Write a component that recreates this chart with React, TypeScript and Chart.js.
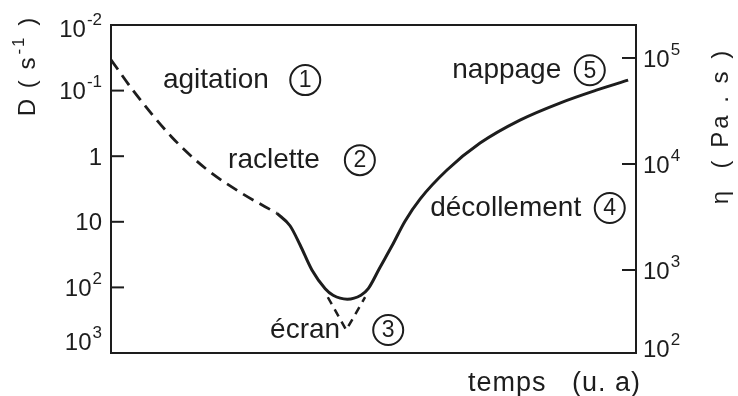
import React, { useEffect, useRef } from "react";
import { Chart, registerables } from "chart.js";

Chart.register(...registerables);

// time axis in arbitrary units (0–100); left values are log10 of D (axis inverted)
const dashedTime = [0, 4.6, 11.6, 17.9, 24.6, 31.6];
const dashedLogD = [-1.47, -0.96, -0.29, 0.18, 0.55, 0.87];
const solidTime = [31.6, 34.1, 36.0, 38.3, 40.8, 42.3, 45.0, 47.6, 49.0, 51.2, 53.5, 56.0, 58.9, 64.0, 70.3, 77.9, 85.5, 92.6, 98.5];
const solidLogD = [0.87, 1.06, 1.35, 1.74, 2.02, 2.12, 2.18, 2.12, 2.02, 1.7, 1.37, 0.99, 0.65, 0.21, -0.2, -0.55, -0.81, -1.01, -1.16];
const screenTime = [41.3, 44.8, 48.4];
const screenLogD = [2.15, 2.65, 2.15];

// axis ticks
const leftTickExps = [-2, -1, 0, 1, 2, 3];
const leftTickBase = ["10", "10", "1", "10", "10", "10"];
const leftTickSup = ["-2", "-1", "", "", "2", "3"];
const rightTickExps = [5, 4, 3, 2];
const rightTickBase = ["10", "10", "10", "10"];
const rightTickSup = ["5", "4", "3", "2"];
const logDMin = -2;
const logDMax = 3;
const logEtaMin = 2.217;
const logEtaMax = 5.311;

// stage annotations
const stageNames = ["agitation", "raclette", "écran", "décollement", "nappage"];
const stageNums = ["1", "2", "3", "4", "5"];
const stageTextTime = [9.9, 22.3, 30.3, 60.8, 65.0];
const stageLogD = [-1.16, 0.06, 2.65, 0.79, -1.31];
const stageCircleTime = [37.0, 47.4, 52.8, 95.0, 91.2];

const INK = "#1d1d1d";
const FONT = '"Liberation Sans", Arial, sans-serif';

function pts(xs: number[], ys: number[]) {
  return xs.map((x, i) => ({ x, y: ys[i] }));
}

function drawPow(
  ctx: CanvasRenderingContext2D,
  base: string,
  sup: string,
  x: number,
  yMid: number,
  align: "left" | "right",
  baseSize = 24,
  supSize = 17
) {
  ctx.save();
  ctx.fillStyle = INK;
  ctx.textBaseline = "alphabetic";
  ctx.textAlign = "left";
  ctx.font = `${baseSize}px ${FONT}`;
  const bw = ctx.measureText(base).width;
  ctx.font = `${supSize}px ${FONT}`;
  const sw = sup ? ctx.measureText(sup).width + 1 : 0;
  const total = bw + sw;
  const x0 = align === "left" ? x : x - total;
  const baseline = yMid + baseSize * 0.36;
  ctx.font = `${baseSize}px ${FONT}`;
  ctx.fillText(base, x0, baseline);
  if (sup) {
    ctx.font = `${supSize}px ${FONT}`;
    ctx.fillText(sup, x0 + bw + 1, baseline - 12);
  }
  ctx.restore();
}

const overlayPlugin = {
  id: "overlay",
  afterDraw(chart: any) {
    const { ctx, chartArea } = chart;
    const { left, right, top, bottom } = chartArea;
    const xs = chart.scales.x;
    const ys = chart.scales.y;
    const y2 = chart.scales.y2;
    ctx.save();
    // frame
    ctx.strokeStyle = INK;
    ctx.lineWidth = 2;
    ctx.strokeRect(left, top, right - left, bottom - top);

    // left ticks (inward) + labels
    leftTickExps.forEach((v, i) => {
      const py = ys.getPixelForValue(v);
      if (py > top + 2 && py < bottom - 2) {
        ctx.beginPath();
        ctx.moveTo(left, py);
        ctx.lineTo(left + 13, py);
        ctx.stroke();
      }
      const ly = Math.min(Math.max(py, top + 3), bottom - 12);
      drawPow(ctx, leftTickBase[i], leftTickSup[i], left - 9, ly, "right");
    });

    // right ticks (inward) + labels
    rightTickExps.forEach((v, i) => {
      const py = y2.getPixelForValue(v);
      if (py > top + 2 && py < bottom - 2) {
        ctx.beginPath();
        ctx.moveTo(right - 14, py);
        ctx.lineTo(right, py);
        ctx.stroke();
      }
      const ly = Math.min(py, bottom - 5);
      drawPow(ctx, rightTickBase[i], rightTickSup[i], right + 7, ly, "left");
    });

    // left axis title (rotated)
    ctx.save();
    ctx.translate(28, 66);
    ctx.rotate(-Math.PI / 2);
    ctx.fillStyle = INK;
    ctx.textBaseline = "middle";
    ctx.textAlign = "left";
    ctx.font = `24px ${FONT}`;
    (ctx as any).letterSpacing = "2px";
    const t1 = "D ( s";
    const w1 = ctx.measureText(t1).width;
    ctx.font = `17px ${FONT}`;
    const t2 = "-1";
    const w2 = ctx.measureText(t2).width;
    ctx.font = `24px ${FONT}`;
    const t3 = " )";
    const w3 = ctx.measureText(t3).width;
    const start = -(w1 + w2 + w3 + 2) / 2;
    ctx.fillText(t1, start, 0);
    ctx.font = `17px ${FONT}`;
    ctx.fillText(t2, start + w1 + 1, -9);
    ctx.font = `24px ${FONT}`;
    ctx.fillText(t3, start + w1 + w2 + 2, 0);
    ctx.restore();

    // right axis title (rotated)
    ctx.save();
    ctx.translate(721, 126);
    ctx.rotate(-Math.PI / 2);
    ctx.fillStyle = INK;
    ctx.textBaseline = "middle";
    ctx.textAlign = "center";
    ctx.font = `24px ${FONT}`;
    (ctx as any).letterSpacing = "3px";
    ctx.fillText("η  ( Pa . s )", 0, 0);
    ctx.restore();

    // x axis title
    ctx.save();
    ctx.fillStyle = INK;
    ctx.textBaseline = "middle";
    ctx.textAlign = "left";
    ctx.font = `27px ${FONT}`;
    (ctx as any).letterSpacing = "1px";
    ctx.fillText("temps", right - 168, bottom + 31);
    ctx.fillText("(u. a)", right - 64, bottom + 31);
    ctx.restore();

    // stage annotations
    stageNames.forEach((name, i) => {
      const tx = xs.getPixelForValue(stageTextTime[i]);
      const ty = ys.getPixelForValue(stageLogD[i]);
      const cx = xs.getPixelForValue(stageCircleTime[i]);
      ctx.save();
      ctx.fillStyle = INK;
      ctx.textBaseline = "middle";
      ctx.textAlign = "left";
      ctx.font = `28px ${FONT}`;
      ctx.fillText(name, tx, ty);
      ctx.beginPath();
      ctx.lineWidth = 2;
      ctx.strokeStyle = INK;
      ctx.arc(cx, ty, 15, 0, Math.PI * 2);
      ctx.stroke();
      ctx.textAlign = "center";
      ctx.font = `23px ${FONT}`;
      ctx.fillText(stageNums[i], cx, ty + 1);
      ctx.restore();
    });

    ctx.restore();
  },
};

export default function App() {
  const ref = useRef<HTMLCanvasElement | null>(null);
  useEffect(() => {
    if (!ref.current) return;
    const chart = new Chart(ref.current, {
      type: "line",
      data: {
        datasets: [
          {
            data: pts(dashedTime, dashedLogD),
            borderColor: INK,
            borderWidth: 2.8,
            borderDash: [12, 7],
            pointRadius: 0,
            fill: false,
            cubicInterpolationMode: "monotone",
          },
          {
            data: pts(solidTime, solidLogD),
            borderColor: INK,
            borderWidth: 3,
            pointRadius: 0,
            fill: false,
            cubicInterpolationMode: "monotone",
          },
          {
            data: pts(screenTime, screenLogD),
            borderColor: INK,
            borderWidth: 2.5,
            borderDash: [8, 6],
            pointRadius: 0,
            fill: false,
            tension: 0,
          },
        ],
      } as any,
      options: {
        animation: false,
        responsive: false,
        devicePixelRatio: 1,
        layout: { padding: { left: 111, right: 102, top: 25, bottom: 43 } },
        plugins: { legend: { display: false }, tooltip: { enabled: false } },
        scales: {
          x: { type: "linear", min: 0, max: 100, display: false },
          y: { type: "linear", min: logDMin, max: logDMax, reverse: true, display: false },
          y2: { type: "linear", min: logEtaMin, max: logEtaMax, display: false, position: "right" },
        },
      } as any,
      plugins: [overlayPlugin],
    });
    return () => chart.destroy();
  }, []);
  return (
    <div style={{ position: "fixed", left: 0, top: 0, width: 738, height: 396, background: "#fff" }}>
      <canvas ref={ref} width={738} height={396} style={{ display: "block" }} />
    </div>
  );
}
